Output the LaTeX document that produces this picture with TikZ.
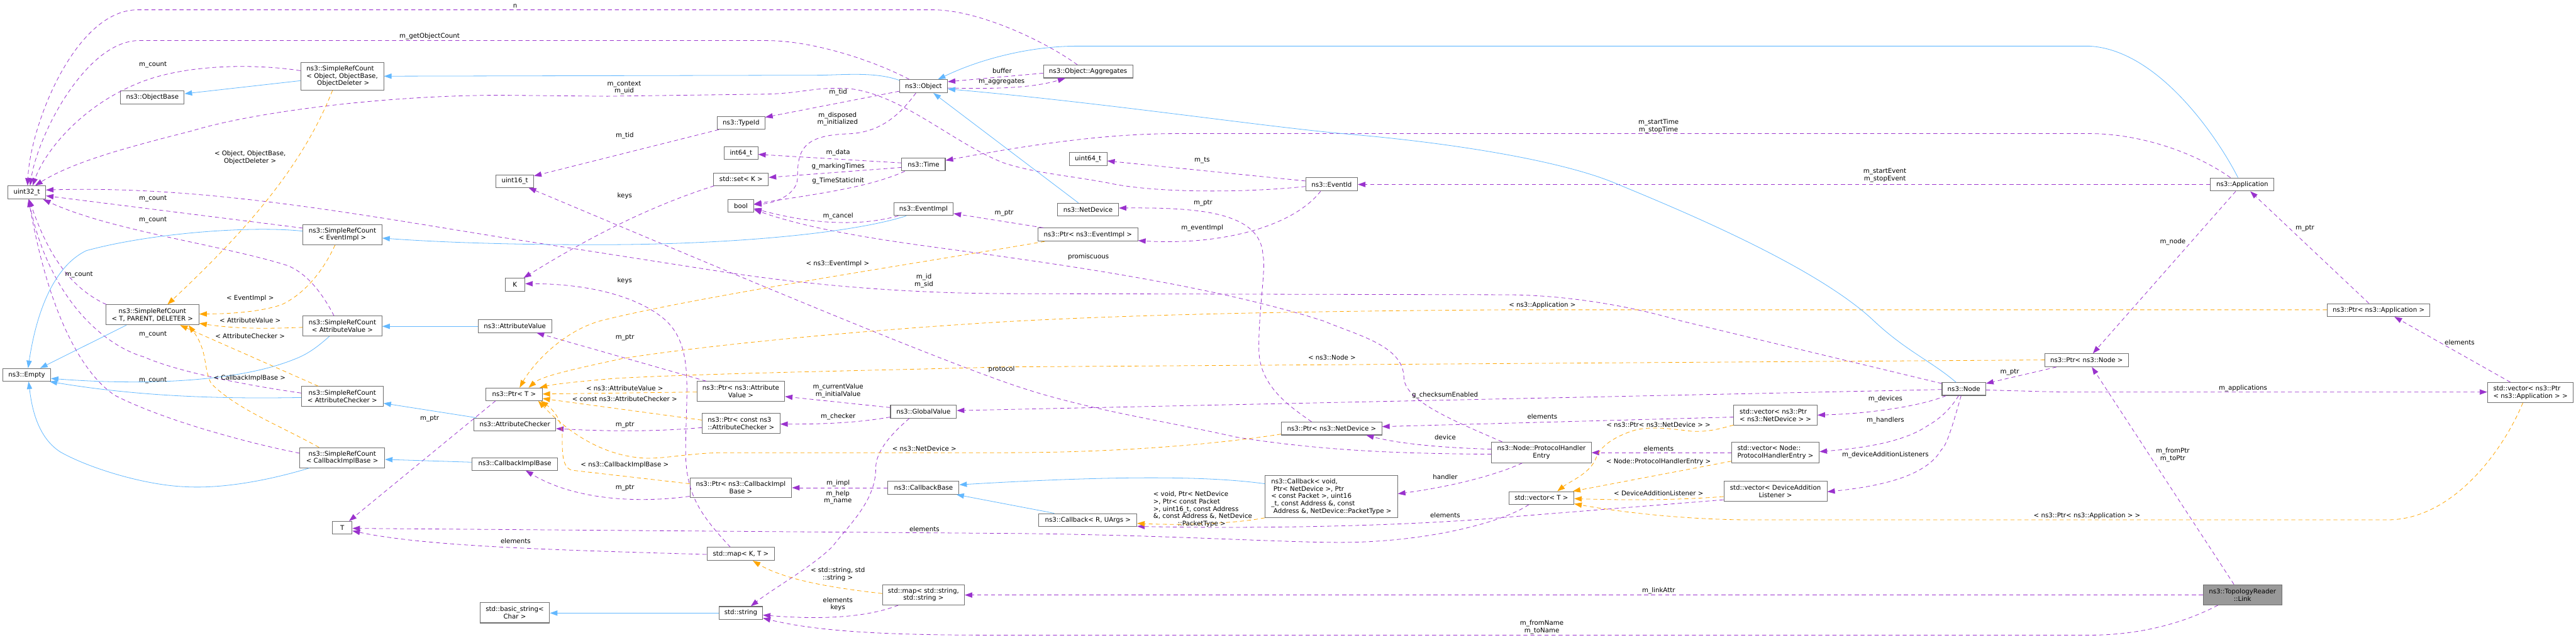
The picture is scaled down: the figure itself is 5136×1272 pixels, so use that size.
\documentclass[tikz,border=0pt]{standalone}
\usepackage{fontspec}
\setmainfont{DejaVu Sans}
\usetikzlibrary{arrows.meta}
\definecolor{depc}{HTML}{9A32CD}
\definecolor{inhc}{HTML}{63B8FF}
\definecolor{tplc}{HTML}{FFA500}
\definecolor{boxc}{HTML}{6E6E6E}
\definecolor{boxgray}{HTML}{999999}
\newcommand{\bx}[7][]{%
  \pgfmathsetmacro{\bxcx}{(#3+#5)/2}\pgfmathsetmacro{\bxcy}{(#4+#6)/2}%
  \pgfmathsetmacro{\bxw}{#5-#3}\pgfmathsetmacro{\bxh}{#6-#4}%
  \node[cls,minimum width=\bxw pt,minimum height=\bxh pt,#1] (#2) at (\bxcx,\bxcy) {#7};}
\tikzset{
  txt/.style={font=\fontsize{12.85}{14.7}\selectfont},
  cls/.style={txt,draw=boxc,fill=white,line width=1.3pt,inner sep=0pt,align=center},
  lab/.style={txt,inner sep=0pt,align=center},
  edgebase/.style={line width=1pt,line join=round},
  dep/.style={edgebase,draw=depc,dash pattern=on 8pt off 6pt,-{Triangle[length=15pt,width=10.5pt,fill=depc]}},
  tpl/.style={edgebase,draw=tplc,dash pattern=on 8pt off 6pt,-{Triangle[length=15pt,width=10.5pt,fill=tplc]}},
  inh/.style={edgebase,draw=inhc,-{Triangle[length=15pt,width=10.5pt,fill=inhc]}}
}
\begin{document}
\begin{tikzpicture}[x=1pt,y=-1pt]
\useasboundingbox (0,0) rectangle (5136,1272);
\bx{u32}{16}{371}{91}{397}{uint32\_t}
\bx[align=left]{srcobj}{599.5}{124.5}{765}{179.6}{ns3::SimpleRefCount\\< Object, ObjectBase,\\\hspace*{21pt}ObjectDeleter >}
\bx{objbase}{240.4}{181.6}{367.3}{207.3}{ns3::ObjectBase}
\bx{srcev}{604}{447.8}{761.5}{488.2}{ns3::SimpleRefCount\\< EventImpl >}
\bx{srct}{211}{608}{396.7}{648}{ns3::SimpleRefCount\\< T, PARENT, DELETER >}
\bx{srcav}{604}{630.6}{761.5}{670}{ns3::SimpleRefCount\\< AttributeValue >}
\bx{empty}{5.7}{735}{100.8}{760.5}{ns3::Empty}
\bx{srcac}{601}{771}{764}{811}{ns3::SimpleRefCount\\< AttributeChecker >}
\bx{srccb}{597.6}{893}{767}{933}{ns3::SimpleRefCount\\< CallbackImplBase >}
\bx{tt}{663}{1040}{702}{1065.6}{T}
\bx{bstr}{957}{1202}{1095.7}{1242.6}{std::basic\_string<\\Char >}
\bx{obj}{1793.4}{159}{1889}{185}{ns3::Object}
\bx{typeid}{1430}{232}{1525}{258}{ns3::TypeId}
\bx{int64}{1444}{292.6}{1511}{318.4}{int64\_t}
\bx{time}{1798}{315}{1884.6}{341}{ns3::Time}
\bx{set}{1423}{345}{1532}{370}{std::set< K >}
\bx{bool}{1451.5}{398}{1502.6}{423}{bool}
\bx{evimpl}{1782}{404.5}{1900.5}{430}{ns3::EventImpl}
\bx{u16}{989}{349}{1064}{374}{uint16\_t}
\bx{K}{1007}{555}{1046.5}{581}{K}
\bx{attv}{953}{638}{1100}{663.4}{ns3::AttributeValue}
\bx{ptrt}{969}{774}{1081}{799}{ns3::Ptr< T >}
\bx{attc}{945}{834}{1108}{859}{ns3::AttributeChecker}
\bx{cib}{941}{913}{1112}{938}{ns3::CallbackImplBase}
\bx{pav}{1389.7}{761}{1564.4}{801}{ns3::Ptr< ns3::Attribute\\Value >}
\bx[align=left]{pac}{1400}{825}{1555}{865}{ns3::Ptr< const ns3\\::AttributeChecker >}
\bx{gv}{1775.5}{808.5}{1907}{834}{ns3::GlobalValue}
\bx{pcb}{1375.6}{953}{1578.4}{993}{ns3::Ptr< ns3::CallbackImpl\\Base >}
\bx{cb}{1770.4}{960.4}{1912}{986}{ns3::CallbackBase}
\bx{map}{1409.4}{1092}{1544.6}{1118}{std::map< K, T >}
\bx{mapss}{1759.6}{1166.4}{1922.8}{1206.7}{std::map< std::string,\\std::string >}
\bx{str}{1433.7}{1210}{1520.4}{1235.3}{std::string}
\bx{aggr}{2080.4}{129.8}{2258.3}{155.5}{ns3::Object::Aggregates}
\bx{u64}{2132}{304.5}{2207}{330}{uint64\_t}
\bx{evid}{2603.3}{354.7}{2706.6}{380.8}{ns3::EventId}
\bx{nd}{2108.4}{405.3}{2230}{431}{ns3::NetDevice}
\bx{pev}{2069.5}{455}{2268.5}{481}{ns3::Ptr< ns3::EventImpl >}
\bx{pnd}{2554.8}{842}{2755}{867.7}{ns3::Ptr< ns3::NetDevice >}
\bx{phe}{2974}{882}{3172.6}{923}{ns3::Node::ProtocolHandler\\Entry}
\bx[align=left]{cbv}{2522.3}{948.3}{2786.4}{1033}{ns3::Callback< void,\\\hspace*{4.5pt}Ptr< NetDevice >, Ptr\\< const Packet >, uint16\\\_t, const Address \&, const\\\hspace*{4.5pt}Address \&, NetDevice::PacketType >}
\bx{cbr}{2071.4}{1024.5}{2266.6}{1050.3}{ns3::Callback< R, UArgs >}
\bx[align=left]{vnd}{3456.7}{807.7}{3623}{848.4}{std::vector< ns3::Ptr\\< ns3::NetDevice > >}
\bx[align=left]{vph}{3452.5}{882}{3627}{923}{std::vector< Node::\\ProtocolHandlerEntry >}
\bx{vdal}{3437}{959.6}{3642.6}{1000}{std::vector< DeviceAddition\\Listener >}
\bx{vt}{3008.4}{980.6}{3138}{1006}{std::vector< T >}
\bx{node}{3872}{763.3}{3959}{788.7}{ns3::Node}
\bx{pnode}{4076.8}{705.7}{4243.4}{731.5}{ns3::Ptr< ns3::Node >}
\bx{app}{4407}{355}{4534}{381}{ns3::Application}
\bx{papp}{4639.8}{605.7}{4845}{631.4}{ns3::Ptr< ns3::Application >}
\bx[align=left]{vapp}{4959.6}{763}{5130.7}{803}{std::vector< ns3::Ptr\\< ns3::Application > >}
\bx[fill=boxgray]{link}{4392.7}{1166.4}{4549.3}{1206.7}{ns3::TopologyReader\\::Link}

% ---- usage edges
\draw[dep] (aggr.north -| 2148,0) .. controls (2080,80) and (1950,20) .. (1861,19.6) -- (274,19.6) .. controls (150,20) and (60,250) .. (u32.north -| 55,0);
\draw[dep] (obj.north -| 1813,0) .. controls (1740,120) and (1620,81) .. (1529,81) -- (274,81) .. controls (170,85) and (75,270) .. (u32.north -| 60,0);
\draw[dep] (srcobj.west |- 0,141) .. controls (530,130) and (400,125) .. (300,157) .. controls (170,200) and (90,300) .. (u32.north -| 65,0);
\draw[dep] (evid.west |- 0,372) .. controls (2480,385) and (2300,385) .. (2210,365) .. controls (2130,350) and (2060,345) .. (2000,324.5) .. controls (1900,285) and (1800,190) .. (1695,177) .. controls (1620,172) and (1600,188) .. (1510,188) -- (1210,192) -- (1000,190) .. controls (760,190) and (500,225) .. (383,261) .. controls (270,290) and (150,320) .. (u32.north -| 70,0);
\draw[dep] (obj.west |- 0,182) -- (typeid.east |- 0,234);
\draw[dep] (typeid.south -| 1433,0) -- (u16.east |- 0,351);
\draw[dep] (phe.west |- 0,906) .. controls (2800,905) and (2640,900) .. (2465,872) .. controls (2300,835) and (2150,815) .. (2000,761) .. controls (1800,690) and (1400,520) .. (u16.south -| 1054,0);
\draw[dep] (phe.north -| 2995,0) .. controls (2900,840) and (2800,800) .. (2799,753) .. controls (2798,690) and (2710,670) .. (2638,640) .. controls (2450,580) and (2200,540) .. (2000,512) .. controls (1850,490) and (1650,470) .. (bool.east |- 0,418);
\draw[dep] (evimpl.south -| 1791,0) .. controls (1720,450) and (1630,450) .. (bool.east |- 0,416);
\draw[dep] (obj.south -| 1826,0) .. controls (1790,235) and (1750,265) .. (1690,267) .. controls (1600,270) and (1590,300) .. (1590,355) .. controls (1590,385) and (1550,405) .. (bool.east |- 0,408);
\draw[dep] (time.south -| 1804,0) .. controls (1730,375) and (1620,388) .. (bool.east |- 0,407);
\draw[dep] (time.west |- 0,325) -- (int64.east |- 0,308);
\draw[dep] (time.west |- 0,334) -- (set.east |- 0,354);
\draw[dep] (set.south -| 1424,0) .. controls (1300,410) and (1180,470) .. (K.north -| 1044,0);
\draw[dep] (map.north -| 1456,0) .. controls (1400,1030) and (1367,990) .. (1367,900) .. controls (1367,780) and (1385,690) .. (1325,637) .. controls (1270,590) and (1170,566) .. (K.east |- 0,566);
\draw[dep] (app.north -| 4447,0) .. controls (4370,300) and (4260,266.5) .. (4166,266.5) -- (2351,266.5) .. controls (2230,266.5) and (2100,280) .. (time.east |- 0,320);
\draw[dep] (app.west |- 0,368) -- (evid.east |- 0,368);
\draw[dep] (evid.west |- 0,361) -- (u64.east |- 0,321);
\draw[dep] (evid.south -| 2633,0) .. controls (2580,450) and (2440,490) .. (pev.east |- 0,480);
\draw[dep] (pev.north -| 2080,0) -- (evimpl.east |- 0,426);
\draw[dep] (ptrt.south -| 988,0) -- (tt.north -| 696,0);
\draw[dep] (pav.north -| 1408,0) -- (attv.south -| 1070,0);
\draw[dep] (pac.west |- 0,853) .. controls (1300,862) and (1200,860) .. (attc.east |- 0,855);
\draw[dep] (pcb.west |- 0,990) .. controls (1280,1003) and (1150,1000) .. (cib.south -| 1048,0);
\draw[dep] (gv.west |- 0,813) -- (pav.east |- 0,791);
\draw[dep] (gv.west |- 0,832) .. controls (1700,845) and (1630,846) .. (pac.east |- 0,846);
\draw[dep] (cb.west |- 0,973) -- (pcb.east |- 0,973);
\draw[dep] (gv.south -| 1813,0) .. controls (1760,880) and (1746,910) .. (1746,935) .. controls (1746,1000) and (1690,1050) .. (1660,1090) .. controls (1620,1130) and (1540,1175) .. (str.north -| 1497,0);
\draw[dep] (node.west |- 0,777) -- (gv.east |- 0,819);
\draw[dep] (mapss.south -| 1791,0) .. controls (1720,1235) and (1620,1235) .. (str.east |- 0,1227);
\draw[dep] (link.south -| 4422,0) .. controls (4340,1250) and (4250,1267) .. (4166,1267) -- (2000,1267) .. controls (1830,1267) and (1650,1265) .. (str.east |- 0,1233);
\draw[dep] (link.west |- 0,1187) -- (mapss.east |- 0,1187);
\draw[dep] (link.north -| 4454,0) -- (pnode.south -| 4170.7,0);
\draw[dep] (app.south -| 4457.5,0) -- (pnode.north -| 4172.7,0);
\draw[dep] (papp.north -| 4723,0) -- (app.south -| 4486.5,0);
\draw[dep] (vapp.north -| 5005,0) -- (papp.south -| 4774,0);
\draw[dep] (node.east |- 0,778) -- (4106,782) -- (vapp.west |- 0,782);
\draw[dep] (pnode.south -| 4100,0) -- (node.east |- 0,765);
\draw[dep] (aggr.west |- 0,146) -- (obj.east |- 0,163);
\draw[dep] (obj.east |- 0,175.5) .. controls (1990,178) and (2060,175) .. (aggr.south -| 2124,0);
\draw[dep] (srcev.west |- 0,455) -- (u32.east |- 0,390.6);
\draw[dep] (srct.north -| 212,0) .. controls (130,570) and (90,490) .. (u32.south -| 58,0);
\draw[dep] (srcav.north -| 666,0) .. controls (640,580) and (610,545) .. (574,530) .. controls (450,490) and (220,460) .. (u32.south -| 86,0);
\draw[dep] (srcac.west |- 0,784) .. controls (480,767) and (350,740) .. (287,712) .. controls (210,690) and (100,600) .. (u32.south -| 57,0);
\draw[dep] (srccb.west |- 0,904) .. controls (500,885) and (330,840) .. (229.6,789) .. controls (170,750) and (100,640) .. (u32.south -| 57,0);
\draw[dep] (node.west |- 0,765) -- (3351,640) .. controls (3250,610) and (3120,588) .. (3000,588) -- (2000,585.7) .. controls (1850,585) and (1650,575) .. (1433,541) -- (1000,473.5) .. controls (700,425) and (400,370) .. (u32.east |- 0,379);
\draw[dep] (vdal.west |- 0,997) -- (3000,1032) .. controls (2800,1050) and (2500,1055) .. (cbr.east |- 0,1050);
\draw[dep] (vt.south -| 3048,0) .. controls (3000,1040) and (2850,1082) .. (2670,1082) .. controls (2550,1082) and (2300,1066) .. (2000,1064) -- (tt.east |- 0,1054);
\draw[dep] (map.west |- 0,1106) .. controls (1100,1097) and (850,1090) .. (tt.east |- 0,1059);
\draw[dep] (vnd.west |- 0,832) -- (pnd.east |- 0,851);
\draw[dep] (phe.west |- 0,896) .. controls (2870,893) and (2790,885) .. (pnd.south -| 2724,0);
\draw[dep] (pnd.north -| 2615,0) .. controls (2570,810) and (2512,770) .. (2510,700) .. controls (2508,630) and (2525,530) .. (2518,510) .. controls (2515,420) and (2380,414) .. (nd.east |- 0,415);
\draw[dep] (vph.west |- 0,903) -- (phe.east |- 0,903);
\draw[dep] (node.south -| 3880,0) .. controls (3830,810) and (3730,825) .. (vnd.east |- 0,828);
\draw[dep] (node.south -| 3905,0) .. controls (3880,830) and (3850,845) .. (3842,850) .. controls (3790,885) and (3700,895) .. (vph.east |- 0,901);
\draw[dep] (node.south -| 3910,0) .. controls (3890,860) and (3880,890) .. (3870,898) .. controls (3840,950) and (3750,970) .. (vdal.east |- 0,981);
\draw[dep] (phe.south -| 3035,0) .. controls (2990,945) and (2900,970) .. (cbv.east |- 0,985);
% ---- template edges
\draw[tpl] (pev.south -| 2083,0) .. controls (1800,530) and (1400,590) .. (1201,639) .. controls (1120,660) and (1060,730) .. (ptrt.north -| 1036,0);
\draw[tpl] (papp.west |- 0,618) -- (3000,618) .. controls (2700,620) and (2300,625) .. (2000,642) .. controls (1700,660) and (1400,690) .. (1242,715) .. controls (1150,735) and (1080,750) .. (ptrt.north -| 1054,0);
\draw[tpl] (pnode.west |- 0,718) -- (2000,732) .. controls (1700,740) and (1400,745) .. (1223,755) .. controls (1170,760) and (1110,765) .. (ptrt.north -| 1076,0);
\draw[tpl] (pav.west |- 0,782) -- (ptrt.east |- 0,786);
\draw[tpl] (pac.west |- 0,838) -- (ptrt.east |- 0,795);
\draw[tpl] (pnd.west |- 0,866) .. controls (2400,890) and (2200,903) .. (2000,903) -- (1446,903) .. controls (1380,903) and (1330,915) .. (1287,914) .. controls (1200,910) and (1130,860) .. (ptrt.south -| 1073,0);
\draw[tpl] (pcb.west |- 0,965) -- (1140,938) .. controls (1120,932) and (1121,900) .. (1121,870) .. controls (1121,835) and (1100,815) .. (ptrt.south -| 1078,0);
\draw[tpl] (mapss.west |- 0,1184) .. controls (1680,1175) and (1570,1160) .. (map.south -| 1501,0);
\draw[tpl] (vapp.south -| 5030,0) .. controls (4990,900) and (4890,1037) .. (4760,1037) -- (3491,1037) .. controls (3380,1037) and (3250,1025) .. (vt.east |- 0,1005);
\draw[tpl] (vnd.west |- 0,848) .. controls (3420,858) and (3400,862) .. (3370,860) .. controls (3330,855) and (3290,850) .. (3260,858) .. controls (3220,870) and (3190,890) .. (3182,914) .. controls (3170,945) and (3130,960) .. (vt.north -| 3105,0);
\draw[tpl] (vph.west |- 0,920) -- (vt.north -| 3136,0);
\draw[tpl] (vdal.west |- 0,990.6) .. controls (3340,998) and (3240,998) .. (vt.east |- 0,994.7);
\draw[tpl] (srcobj.south -| 663,0) .. controls (600,340) and (480,470) .. (srct.north -| 334,0);
\draw[tpl] (srcev.south -| 668,0) .. controls (640,550) and (600,590) .. (561,608) .. controls (510,625) and (440,626) .. (srct.east |- 0,626.5);
\draw[tpl] (srcav.west |- 0,653) .. controls (530,656) and (470,656) .. (srct.east |- 0,645);
\draw[tpl] (srcac.north -| 634.6,0) -- (srct.south -| 359,0);
\draw[tpl] (srccb.north -| 636,0) .. controls (560,850) and (470,815) .. (421,765) .. controls (405,735) and (415,700) .. (srct.south -| 376,0);
\draw[tpl] (cbv.west |- 0,1033) .. controls (2460,1045) and (2350,1048) .. (cbr.east |- 0,1044);
% ---- inheritance edges
\draw[inh] (node.north -| 3900,0) .. controls (3850,720) and (3800,700) .. (3736,640) .. controls (3620,530) and (3340,415) .. (3224,367) .. controls (3120,322) and (2900,285) .. (2676,266.5) .. controls (2500,250) and (2200,205) .. (obj.east |- 0,177.5);
\draw[inh] (app.north -| 4462,0) .. controls (4430,290) and (4310,100) .. (4166,92) -- (2147,92) .. controls (2060,92) and (1960,115) .. (obj.north -| 1870,0);
\draw[inh] (nd.north -| 2150,0) -- (obj.south -| 1861,0);
\draw[inh] (obj.west |- 0,160) .. controls (1750,145) and (1700,148) .. (1640,150) -- (srcobj.east |- 0,152);
\draw[inh] (evimpl.south -| 1807,0) .. controls (1700,465) and (1450,490) .. (1159,488) .. controls (1050,488) and (900,485) .. (srcev.east |- 0,475);
\draw[inh] (attv.west |- 0,651) -- (srcav.east |- 0,651);
\draw[inh] (attc.north -| 950,0) -- (srcac.east |- 0,804.4);
\draw[inh] (cib.west |- 0,922) -- (srccb.east |- 0,916.5);
\draw[inh] (srcev.west |- 0,461) .. controls (500,450) and (300,465) .. (172,500) .. controls (100,535) and (70,640) .. (empty.north -| 56,0);
\draw[inh] (srcav.south -| 657,0) .. controls (630,695) and (610,708) .. (587,716.6) .. controls (480,760) and (300,770) .. (empty.east |- 0,755);
\draw[inh] (srcac.west |- 0,793) .. controls (480,795) and (300,795) .. (empty.south -| 99,0);
\draw[inh] (srct.south -| 252,0) -- (empty.north -| 80,0);
\draw[inh] (srccb.south -| 617,0) .. controls (530,960) and (440,975) .. (370,971) .. controls (290,968) and (180,935) .. (121,902) .. controls (70,870) and (62,800) .. (empty.south -| 57,0);
\draw[inh] (srcobj.west |- 0,161) -- (objbase.east |- 0,187);
\draw[inh] (str.west |- 0,1223) -- (bstr.east |- 0,1223);
\draw[inh] (cbv.west |- 0,965) .. controls (2400,948) and (2200,950) .. (cb.east |- 0,967);
\draw[inh] (cbr.north -| 2102,0) -- (cb.south -| 1907,0);

% ---- labels
\node[lab] (l1) at (1027,12) {n};
\node[lab] (l2) at (856.5,72.6) {m\_getObjectCount};
\node[lab] (l3) at (305,129) {m\_count};
\node[lab] (l4) at (305,396) {m\_count};
\node[lab] (l5) at (305,438.8) {m\_count};
\node[lab] (l6) at (157.5,547.8) {m\_count};
\node[lab] (l7) at (305,667) {m\_count};
\node[lab] (l8) at (305,759) {m\_count};
\node[lab] (l9) at (498.7,314.7) {< Object, ObjectBase,\\ObjectDeleter >};
\node[lab] (l10) at (498.7,595.5) {< EventImpl >};
\node[lab] (l11) at (498.7,639.5) {< AttributeValue >};
\node[lab] (l12) at (498.7,670.2) {< AttributeChecker >};
\node[lab] (l13) at (497.5,755) {< CallbackImplBase >};
\node[lab] (l14) at (1244.5,175) {m\_context\\m\_uid};
\node[lab] (l15) at (1671,184.5) {m\_tid};
\node[lab] (l16) at (1245.5,270.6) {m\_tid};
\node[lab] (l17) at (1670,237.5) {m\_disposed\\m\_initialized};
\node[lab] (l18) at (1671,304) {m\_data};
\node[lab] (l19) at (1671,331.8) {g\_markingTimes};
\node[lab] (l20) at (1671,360.8) {g\_TimeStaticInit};
\node[lab] (l21) at (1245.5,390.6) {keys};
\node[lab] (l22) at (1245.5,559.6) {keys};
\node[lab] (l23) at (1671,431.4) {m\_cancel};
\node[lab] (l24) at (2002,425) {m\_ptr};
\node[lab] (l25) at (1670,526.5) {< ns3::EventImpl >};
\node[lab] (l26) at (1842,560) {m\_id\\m\_sid};
\node[lab] (l27) at (1998,141) {buffer};
\node[lab] (l28) at (1997,163) {m\_aggregates};
\node[lab] (l29) at (2396.7,320) {m\_ts};
\node[lab] (l30) at (2398.6,405) {m\_ptr};
\node[lab] (l31) at (2397,455.5) {m\_eventImpl};
\node[lab] (l32) at (2170,513) {promiscuous};
\node[lab] (l33) at (1997,736.7) {protocol};
\node[lab] (l34) at (1246,673) {m\_ptr};
\node[lab] (l35) at (1245.5,774) {< ns3::AttributeValue >};
\node[lab] (l36) at (1245.5,796.4) {< const ns3::AttributeChecker >};
\node[lab] (l37) at (1246,848) {m\_ptr};
\node[lab] (l38) at (1245.5,927.4) {< ns3::CallbackImplBase >};
\node[lab] (l39) at (1246,973) {m\_ptr};
\node[lab] (l40) at (856.5,835) {m\_ptr};
\node[lab] (l41) at (1671,779.5) {m\_currentValue\\m\_initialValue};
\node[lab] (l42) at (1671,830.6) {m\_checker};
\node[lab] (l43) at (1843,895) {< ns3::NetDevice >};
\node[lab] (l44) at (1671,964.5) {m\_impl};
\node[lab] (l45) at (1670.5,992.3) {m\_help\\m\_name};
\node[lab] (l46) at (1843,1055.6) {elements};
\node[lab] (l47) at (1028,1079) {elements};
\node[lab] (l48) at (1670.5,1145.7) {< std::string, std\\::string >};
\node[lab] (l49) at (1670.5,1205.3) {elements\\keys};
\node[lab] (l50) at (2655.6,712.6) {< ns3::Node >};
\node[lab] (l51) at (2881,788.7) {g\_checksumEnabled};
\node[lab] (l52) at (2881.4,872.6) {device};
\node[lab] (l53) at (2881.4,951.6) {handler};
\node[lab] (l54) at (2881.4,1027.7) {elements};
\node[lab,align=left] (l55) at (2398,1016) {< void, Ptr< NetDevice\\>, Ptr< const Packet\\>, uint16\_t, const Address\\\&, const Address \&, NetDevice\\\hspace*{49pt}::PacketType >};
\node[lab] (l56) at (3075,830.6) {elements};
\node[lab] (l57) at (3306.6,847.6) {< ns3::Ptr< ns3::NetDevice > >};
\node[lab] (l58) at (3307,894.7) {elements};
\node[lab] (l59) at (3306.6,921) {< Node::ProtocolHandlerEntry >};
\node[lab] (l60) at (3307,983.4) {< DeviceAdditionListener >};
\node[lab] (l61) at (3759,795.6) {m\_devices};
\node[lab] (l62) at (3759,838.7) {m\_handlers};
\node[lab] (l63) at (3759,907.6) {m\_deviceAdditionListeners};
\node[lab] (l64) at (3307,1178.5) {m\_linkAttr};
\node[lab] (l65) at (3074,1251) {m\_fromName\\m\_toName};
\node[lab] (l66) at (3306.6,251.5) {m\_startTime\\m\_stopTime};
\node[lab] (l67) at (3758,350) {m\_startEvent\\m\_stopEvent};
\node[lab] (l68) at (3075,609) {< ns3::Application >};
\node[lab] (l69) at (4007,743) {m\_ptr};
\node[lab] (l70) at (4472,774.6) {m\_applications};
\node[lab] (l71) at (4332,482.9) {m\_node};
\node[lab] (l72) at (4595.5,455) {m\_ptr};
\node[lab] (l73) at (4904,682.7) {elements};
\node[lab] (l74) at (4332,908) {m\_fromPtr\\m\_toPtr};
\node[lab] (l75) at (4161,1028.5) {< ns3::Ptr< ns3::Application > >};
\end{tikzpicture}
\end{document}
